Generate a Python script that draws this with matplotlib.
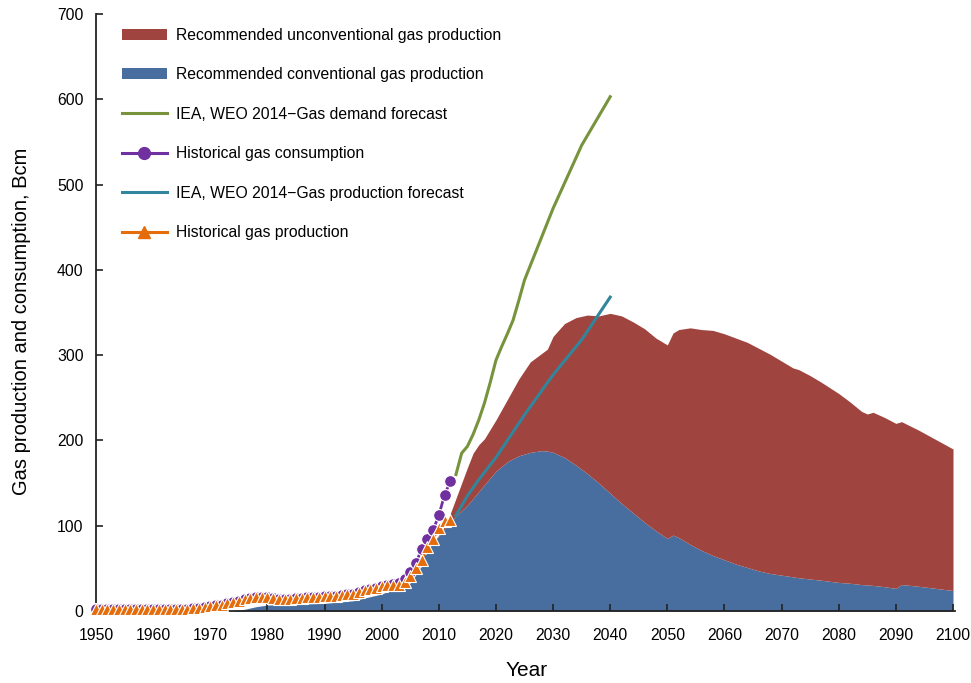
import matplotlib
matplotlib.use("Agg")
import matplotlib.pyplot as plt
from matplotlib.patches import Patch
from matplotlib.lines import Line2D

plt.rcParams['font.family'] = ['Liberation Sans', 'DejaVu Sans']

# Historical series, 1950-2012 (Bcm)
hist_years = list(range(1950, 2013))
hist_production = [
    2.5, 2.5, 2.5, 2.5, 2.5, 2.5, 2.5, 2.5, 2.5, 2.5,      # 1950s
    2.5, 2.5, 2.5, 2.5, 2.5, 2.5, 2.8, 3.5, 4.0, 4.5,      # 1960s
    5.5, 6.5, 7.5, 9.0, 10.5, 12.0, 13.5, 15.0, 16.5, 17.0,  # 1970s
    16.5, 15.0, 14.0, 14.0, 14.5, 15.0, 15.5, 16.0, 16.5, 17.0,  # 1980s
    17.5, 18.0, 18.0, 19.0, 19.5, 20.0, 22.0, 24.5, 25.5, 27.5,  # 1990s
    29.5, 30.0, 30.5, 31.0, 34.0, 41.0, 50.0, 60.0, 75.0, 85.0,  # 2000s
    97.0, 105.0, 107.0,                                      # 2010-2012
]
hist_consumption = [
    2.5, 2.5, 2.5, 2.5, 2.5, 2.5, 2.5, 2.5, 2.5, 2.5,
    2.5, 2.5, 2.5, 2.5, 2.5, 2.5, 2.8, 3.5, 4.0, 4.5,
    5.5, 6.5, 7.5, 9.0, 10.5, 12.0, 13.5, 15.0, 16.5, 17.0,
    16.5, 15.0, 14.0, 14.0, 14.5, 15.0, 15.5, 16.0, 16.5, 17.0,
    17.5, 18.0, 18.0, 19.0, 19.5, 20.0, 22.0, 24.5, 25.5, 27.5,
    29.5, 30.5, 31.5, 33.0, 38.0, 46.0, 56.0, 73.0, 84.0, 95.0,
    112.0, 136.0, 152.0,
]

# Recommended production path (stacked areas)
path_years = [1974, 1976, 1978, 1980, 1985, 1990, 1995, 2000,
              2003, 2005, 2007, 2009, 2010, 2011, 2012,
              2013, 2014, 2015, 2016, 2017, 2018, 2019, 2020,
              2022, 2024, 2026, 2028, 2029, 2030,
              2032, 2034, 2036, 2038, 2040,
              2042, 2044, 2046, 2048, 2050,
              2051, 2052, 2054, 2056, 2058, 2060,
              2062, 2064, 2066, 2068, 2070,
              2072, 2073, 2075, 2077, 2080,
              2082, 2084, 2085, 2086, 2088, 2090,
              2091, 2094, 2097, 2100]
conventional = [0, 2, 5, 7, 8, 9, 12, 20,
                28, 41, 63, 80, 88, 96, 104,
                111, 117.5, 124, 132, 140, 148, 156, 164,
                175, 182, 186, 188, 187.5, 186,
                180, 171, 161, 150, 138,
                126, 115, 104, 94, 85,
                89, 86, 78, 71, 65, 60,
                55, 51, 47, 44, 42,
                40, 39, 37.5, 36, 33.5,
                32.5, 31, 30.5, 30, 28.5, 26.5,
                31, 29, 26.5, 24]
unconventional = [0, 0, 0, 0, 0, 0, 0, 0,
                  0, 0, 0, 0, 1, 3, 10,
                  21, 32.5, 44, 53, 55, 54, 57, 60,
                  73, 90, 106, 114, 119.5, 136,
                  157, 173, 186, 196, 211,
                  220, 224, 227, 226, 227,
                  237, 244, 254, 259, 264, 265,
                  265, 264, 261, 257, 251,
                  245, 244, 238.5, 232, 221.5,
                  212.5, 203, 200.5, 203, 198.5, 193.5,
                  191, 183, 174.5, 166]

# IEA WEO 2014 forecasts
demand_years = [2013, 2014, 2015, 2016, 2017, 2018, 2019, 2020,
                2021, 2022, 2023, 2024, 2025, 2030, 2035, 2040]
demand_forecast = [160, 185, 193, 207, 224, 244, 268, 294,
                   310, 325, 341, 364, 388, 472, 546, 603]
prod_fc_years = [2013, 2015, 2017, 2020, 2022, 2025, 2030, 2035, 2040]
prod_forecast = [112, 135, 154, 180, 200, 230, 277, 318, 368]

C_RED = '#A0443F'
C_BLUE = '#476E9E'
C_GREEN = '#77933C'
C_TEAL = '#31859C'
C_PURPLE = '#7030A0'
C_ORANGE = '#E46C0A'

labels = ['Recommended unconventional gas production',
          'Recommended conventional gas production',
          'IEA, WEO 2014\u2212Gas demand forecast',
          'Historical gas consumption',
          'IEA, WEO 2014\u2212Gas production forecast',
          'Historical gas production']

W, H = 971, 683
fig = plt.figure(figsize=(W / 100, H / 100), dpi=100)
ax = fig.add_axes([96 / W, 72 / H, (953 - 96) / W, (611 - 14) / H])

total = [c + u for c, u in zip(conventional, unconventional)]
ax.fill_between(path_years, 0, conventional, color=C_BLUE, lw=0, zorder=1)
ax.fill_between(path_years, conventional, total, color=C_RED, lw=0, zorder=1)

ax.plot(demand_years, demand_forecast, color=C_GREEN, lw=2.2, zorder=3)
ax.plot(prod_fc_years, prod_forecast, color=C_TEAL, lw=2.2, zorder=3)

ax.plot(hist_years, hist_consumption, color=C_PURPLE, lw=2, marker='o',
        ms=8.5, mfc=C_PURPLE, mec='white', mew=0.8, zorder=4, clip_on=False)
ax.plot(hist_years, hist_production, color=C_ORANGE, lw=2, marker='^',
        ms=8.5, mfc=C_ORANGE, mec='white', mew=0.8, zorder=5, clip_on=False)

ax.set_xlim(1950, 2100)
ax.set_ylim(0, 700)
ax.set_xticks(range(1950, 2101, 10))
ax.set_yticks(range(0, 701, 100))

for side in ('top', 'right'):
    ax.spines[side].set_visible(False)
for side in ('left', 'bottom'):
    ax.spines[side].set_linewidth(1.3)
    ax.spines[side].set_color('#222222')
ax.spines['bottom'].set_bounds(1950, 2100.4)

ax.tick_params(axis='both', direction='in', length=5, width=1.2,
               color='#222222', labelsize=11.3)
ax.tick_params(axis='x', pad=12)
ax.tick_params(axis='y', pad=9)

ax.set_xlabel('Year', fontsize=15)
ax.xaxis.set_label_coords((527 - 96) / 857, (611 - 670) / 597)
ax.xaxis.label.set_va('center')
ax.set_ylabel('Gas production and consumption, Bcm', fontsize=14.5)
ax.yaxis.set_label_coords((22 - 96) / 857, (611 - 321) / 597)
ax.yaxis.label.set_va('center')

handles = [
    Patch(facecolor=C_RED, edgecolor='none'),
    Patch(facecolor=C_BLUE, edgecolor='none'),
    Line2D([], [], color=C_GREEN, lw=2.2),
    Line2D([], [], color=C_PURPLE, lw=2.2, marker='o', ms=8.5, mec=C_PURPLE),
    Line2D([], [], color=C_TEAL, lw=2.2),
    Line2D([], [], color=C_ORANGE, lw=2.2, marker='^', ms=8.5, mec=C_ORANGE),
]
ax.legend(handles, labels, loc='upper left',
          bbox_to_anchor=(26 / 857, 1 - 14 / 597), borderaxespad=0,
          frameon=False, fontsize=11.3, handlelength=2.85,
          handletextpad=0.6, labelspacing=1.56, borderpad=0)

fig.savefig('out.png', dpi=100)
